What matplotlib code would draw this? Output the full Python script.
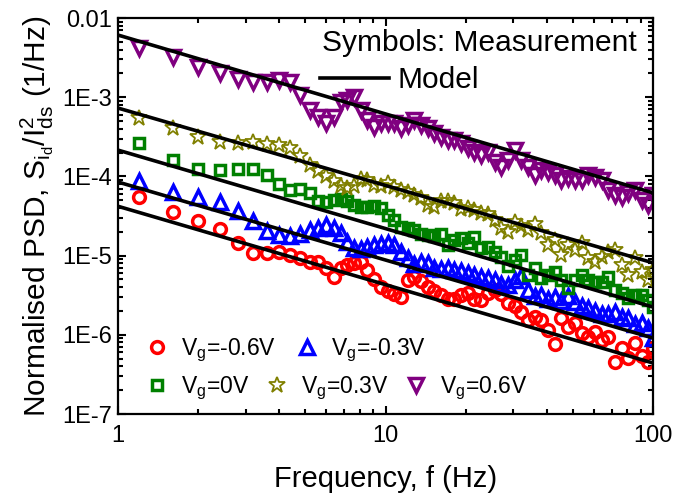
import numpy as np
import matplotlib
matplotlib.use("Agg")
import matplotlib.pyplot as plt
from matplotlib.ticker import LogLocator, NullFormatter
from matplotlib.lines import Line2D

plt.rcParams["font.family"] = ["Liberation Sans", "DejaVu Sans"]
plt.rcParams["mathtext.fontset"] = "custom"
plt.rcParams["mathtext.rm"] = "Liberation Sans"
plt.rcParams["mathtext.it"] = "Liberation Sans"
plt.rcParams["mathtext.default"] = "regular"

# frequency points (Hz)
freq = [1.2, 1.6, 2.0, 2.4, 2.8, 3.2, 3.6, 4.0, 4.4, 4.8, 5.2, 5.6, 6.0, 6.4, 6.8,
        7.2, 7.63, 8.08, 8.56, 9.06, 9.60, 10.2, 10.8, 11.4, 12.1, 12.8, 13.6,
        14.4, 15.2, 16.1, 17.1, 18.1, 19.2, 20.3, 21.5, 22.8, 24.1, 25.6, 27.1,
        28.7, 30.4, 32.2, 34.1, 36.1, 38.2, 40.5, 42.9, 45.4, 48.1, 51.0, 54.0,
        57.2, 60.6, 64.2, 68.0, 72.0, 76.3, 80.8, 85.6, 90.7, 96.1, 100]

# measured log10(S_id / Ids^2)
log_m06 = [-4.260, -4.449, -4.563, -4.664, -4.841, -4.967, -4.967, -4.955, -4.992, -5.030,
           -5.081, -5.081, -5.157, -5.270, -5.157,
           -5.119, -5.093, -5.081, -5.182, -5.295, -5.396, -5.447, -5.485, -5.523, -5.308,
           -5.270, -5.321, -5.396, -5.447, -5.497, -5.548, -5.548, -5.497, -5.472, -5.548,
           -5.561, -5.472, -5.434, -5.485, -5.598, -5.636, -5.712, -5.813, -5.775, -5.813,
           -5.939, -6.116, -5.788, -5.902, -5.851, -5.977, -6.028, -5.965, -6.066, -6.028,
           -6.343, -6.167, -6.293, -6.104, -6.268, -6.343, -6.167]
log_m03 = [-4.058, -4.197, -4.260, -4.323, -4.437, -4.563, -4.689, -4.740, -4.753, -4.727,
           -4.677, -4.652, -4.614, -4.652, -4.715,
           -4.828, -4.904, -4.917, -4.891, -4.866, -4.854, -4.841, -4.866, -4.955, -5.030,
           -5.106, -5.081, -5.093, -5.157, -5.169, -5.157, -5.182, -5.194, -5.220, -5.245,
           -5.270, -5.283, -5.308, -5.359, -5.371, -5.308, -5.258, -5.434, -5.510, -5.497,
           -5.548, -5.523, -5.573, -5.510, -5.586, -5.636, -5.662, -5.699, -5.737, -5.737,
           -5.712, -5.775, -5.788, -5.864, -5.851, -5.914, -6.040]
log_0 = [-3.578, -3.793, -3.907, -3.919, -3.907, -3.907, -3.982, -4.096, -4.172, -4.159,
         -4.210, -4.311, -4.323, -4.298, -4.285,
         -4.311, -4.361, -4.386, -4.386, -4.374, -4.399, -4.487, -4.551, -4.639, -4.652,
         -4.677, -4.727, -4.740, -4.753, -4.727, -4.866, -4.803, -4.778, -4.841, -4.765,
         -4.904, -4.891, -4.955, -5.018, -5.131, -5.056, -4.992, -5.245, -5.157, -5.283,
         -5.245, -5.207, -5.308, -5.409, -5.308, -5.245, -5.308, -5.333, -5.333, -5.270,
         -5.434, -5.472, -5.535, -5.497, -5.497, -5.561, -5.649]
log_p03 = [-3.263, -3.389, -3.503, -3.566, -3.578, -3.566, -3.591, -3.604, -3.641, -3.742,
           -3.856, -3.932, -3.995, -4.058, -4.121,
           -4.146, -4.121, -4.033, -4.045, -4.109, -4.121, -4.083, -4.134, -4.172, -4.197,
           -4.235, -4.273, -4.361, -4.386, -4.311, -4.311, -4.336, -4.412, -4.399, -4.424,
           -4.462, -4.475, -4.551, -4.652, -4.702, -4.576, -4.626, -4.677, -4.601, -4.715,
           -4.866, -4.803, -4.992, -4.866, -4.929, -4.841, -5.030, -5.081, -5.018, -4.955,
           -4.929, -5.119, -5.245, -5.030, -5.207, -5.308, -5.182]
log_p06 = [-2.379, -2.492, -2.619, -2.694, -2.770, -2.808, -2.808, -2.783, -2.808, -2.972,
           -3.162, -3.250, -3.326, -3.250, -3.061,
           -3.035, -2.997, -3.162, -3.288, -3.376, -3.326, -3.326, -3.326, -3.389, -3.351,
           -3.288, -3.351, -3.389, -3.452, -3.503, -3.540, -3.540, -3.578, -3.641, -3.692,
           -3.730, -3.692, -3.818, -3.881, -3.793, -3.667, -3.793, -3.881, -3.982, -3.919,
           -3.944, -3.982, -4.045, -4.020, -4.045, -4.045, -3.982, -4.008, -4.045, -4.172,
           -4.235, -4.260, -4.210, -4.172, -4.298, -4.361, -4.235]

# model lines (1/f), end points at 1 Hz and 100 Hz
model_freq = [1, 100]
model_m06 = [4.2e-5, 4.4e-7]
model_m03 = [8.5e-5, 9.1e-7]
model_0 = [2.15e-4, 2.24e-6]
model_p03 = [7.3e-4, 8.1e-6]
model_p06 = [6.1e-3, 6.2e-5]

labels = [r"V$_g$=-0.6V", r"V$_g$=-0.3V", r"V$_g$=0V", r"V$_g$=0.3V", r"V$_g$=0.6V"]
colors = ["#FF0000", "#0000FF", "#008000", "#808000", "#800080"]
markers = ["o", "^", "s", "*", "v"]
msizes = [8.5, 9.5, 7.5, 12, 9.5]
medges = [2.5, 2.5, 2.5, 1.3, 2.5]

yticks = [1e-7, 1e-6, 1e-5, 1e-4, 1e-3, 1e-2]
yticklabels = ["1E-7", "1E-6", "1E-5", "1E-4", "1E-3", "0.01"]
xticks = [1, 10, 100]
xticklabels = ["1", "10", "100"]

fig = plt.figure(figsize=(6.74, 4.95), dpi=100)
ax = fig.add_axes([0.175, 0.1636, 0.794, 0.800])

f = np.array(freq)
series = [log_m06, log_m03, log_0, log_p03, log_p06]
models = [model_m06, model_m03, model_0, model_p03, model_p06]

handles = []
for logs, c, m, ms, mw, lab in zip(series, colors, markers, msizes, medges, labels):
    h, = ax.plot(f, 10 ** np.array(logs), linestyle="none", marker=m, ms=ms,
                 mfc="none", mec=c, mew=mw, label=lab)
    handles.append(h)

for mod in models:
    ax.plot(model_freq, mod, color="black", lw=2.6, zorder=3)

ax.set_xscale("log")
ax.set_yscale("log")
ax.set_xlim(1, 100)
ax.set_ylim(1e-7, 1e-2)

ax.set_xticks(xticks)
ax.set_xticklabels(xticklabels)
ax.set_yticks(yticks)
ax.set_yticklabels(yticklabels)
ax.xaxis.set_minor_locator(LogLocator(base=10, subs=np.arange(2, 10)))
ax.yaxis.set_minor_locator(LogLocator(base=10, subs=np.arange(2, 10)))
ax.xaxis.set_minor_formatter(NullFormatter())
ax.yaxis.set_minor_formatter(NullFormatter())

ax.tick_params(which="both", direction="in", top=True, right=True, width=1.5)
ax.tick_params(which="major", length=6)
ax.tick_params(which="minor", length=3.5)
ax.tick_params(axis="x", labelsize=17, pad=8)
ax.tick_params(axis="y", labelsize=17, pad=4)
for sp in ax.spines.values():
    sp.set_linewidth(1.6)

ax.set_xlabel("Frequency, f (Hz)", fontsize=21, labelpad=13)
ax.set_ylabel(r"Normalised PSD, S$_{i_d}$/I$^2_{ds}$ (1/Hz)", fontsize=21.5, labelpad=5)

# top-right annotation
ax.text(0.381, 0.937, "Symbols: Measurement", transform=ax.transAxes,
        fontsize=21.5, va="center", ha="left")
model_handle = Line2D([], [], color="black", lw=2.6)
leg_model = ax.legend([model_handle], ["Model"], loc="center left",
                      bbox_to_anchor=(0.378, 0.843), frameon=False, fontsize=21.5,
                      handlelength=2.3, handletextpad=0.3, borderpad=0,
                      borderaxespad=0)
ax.add_artist(leg_model)

leg1 = ax.legend(handles[:2], labels[:2], loc="center left", ncol=2,
                 bbox_to_anchor=(0.054, 0.160), frameon=False, fontsize=16.5,
                 handlelength=0.9, handletextpad=0.6, columnspacing=0.9,
                 borderpad=0, borderaxespad=0, numpoints=1)
ax.add_artist(leg1)
leg2 = ax.legend(handles[2:], labels[2:], loc="center left", ncol=3,
                 bbox_to_anchor=(0.054, 0.066), frameon=False, fontsize=16.5,
                 handlelength=0.9, handletextpad=0.6, columnspacing=0.75,
                 borderpad=0, borderaxespad=0, numpoints=1)

fig.savefig("out.png", dpi=100)
